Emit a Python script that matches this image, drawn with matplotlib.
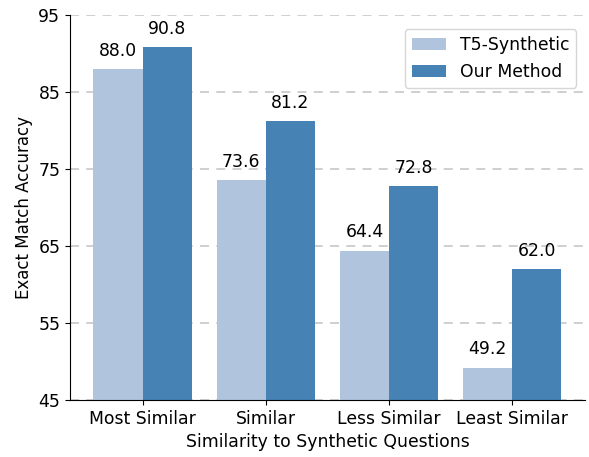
import matplotlib
matplotlib.use("Agg")
import matplotlib.pyplot as plt
import numpy as np

categories = ["Most Similar", "Similar", "Less Similar", "Least Similar"]
t5_synthetic = [88.0, 73.6, 64.4, 49.2]
our_method = [90.8, 81.2, 72.8, 62.0]
series_names = ["T5-Synthetic", "Our Method"]
yticks = [45, 55, 65, 75, 85, 95]

fs = 12.4
fig = plt.figure(figsize=(5.89, 4.57), dpi=100)
ax = fig.add_axes([0.119, 0.125, 0.874, 0.842])

x = np.arange(len(categories))
w = 0.4
b1 = ax.bar(x - w / 2, t5_synthetic, w, color="#B0C4DE", label=series_names[0], zorder=2)
b2 = ax.bar(x + w / 2, our_method, w, color="#4682B4", label=series_names[1], zorder=2)

for bars, vals in ((b1, t5_synthetic), (b2, our_method)):
    for rect, v in zip(bars, vals):
        ax.text(rect.get_x() + rect.get_width() / 2, v + 1.2, f"{v:.1f}",
                ha="center", va="bottom", fontsize=fs)

ax.set_ylim(45, 95)
ax.set_yticks(yticks)
ax.set_xticks(x)
ax.set_xticklabels(categories, fontsize=fs)
ax.tick_params(axis="y", labelsize=fs)
ax.set_ylabel("Exact Match Accuracy", fontsize=12)
ax.set_xlabel("Similarity to Synthetic Questions", fontsize=fs)

ax.yaxis.grid(True, linestyle=(0, (5, 4)), color="#cccccc", linewidth=1.3)
ax.set_axisbelow(True)
for s in ("top", "right"):
    ax.spines[s].set_visible(False)

ax.legend(loc="upper right", fontsize=fs, bbox_to_anchor=(1.0, 0.985))
fig.savefig("out.png", dpi=100)
